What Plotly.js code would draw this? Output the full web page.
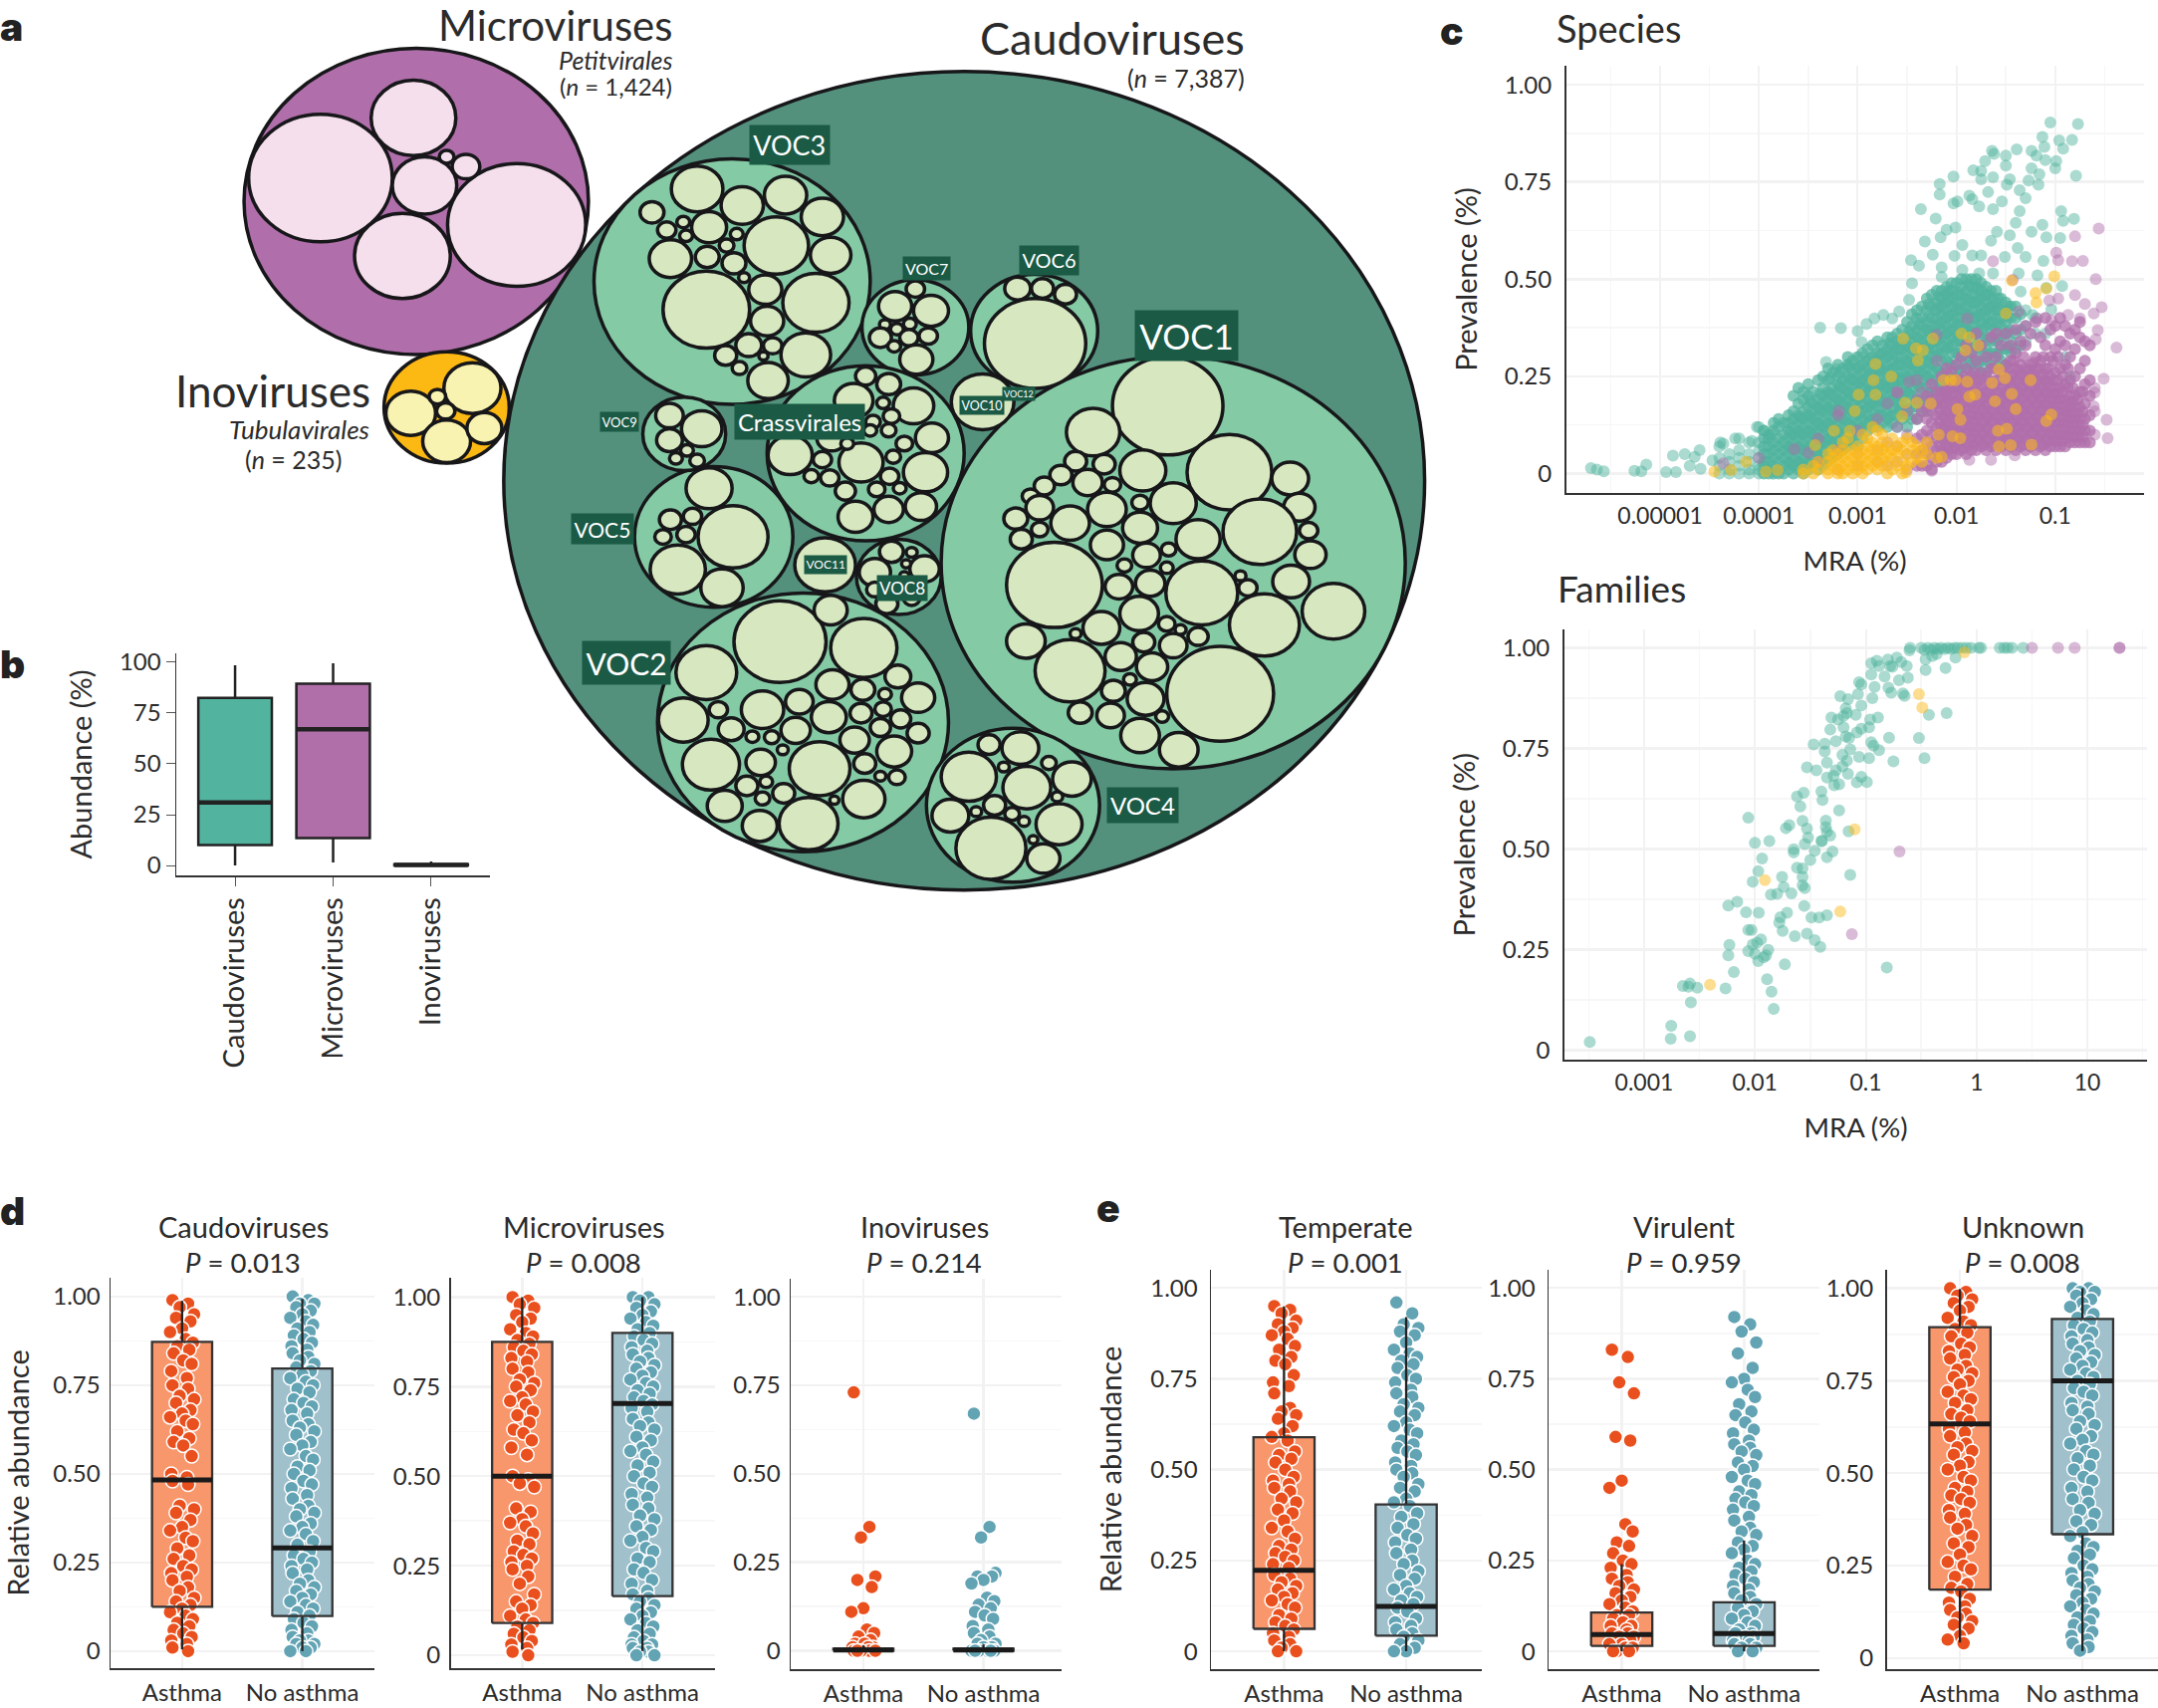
<!DOCTYPE html>
<html><head><meta charset="utf-8">
<script src="https://cdn.plot.ly/plotly-3.0.1.min.js"></script>
<style>html,body{margin:0;padding:0;background:#fff}</style></head>
<body><div id="chart" style="width:2167px;height:1715px"></div>
<script>
// ---------- panel a: circle packing, each circle = [centre x, centre y, radius] in packing units
const caudoOuter=[[1047,840,500]];
const microOuter=[[452,352,187]];
const inoOuter=[[485,712,68]];
const microInner=[[348,311,78],[449,206,46],[561,393,75],[437,447,52],[461,324,35],[506,291,15],[485,274,8]];
const inoInner=[[513,678,31],[446,722,27],[485,771,26],[526,748,19],[484,718,10],[475,693,9]];
const vocGroups=[[795,492,150],[994,572,58],[1123,578,69],[1274,983,252],[872,1262,158],[1100,1407,94],[775,938,86],[743,758,45],[940,792,107],[976,1008,46]];
const voc3=[[757,330,28],[806,359,23],[853,341,23],[893,379,23],[708,371,13],[843,429,35],[902,446,22],[728,452,23],[770,397,19],[724,402,10],[742,388,7],[745,412,7],[768,449,13],[800,409,7],[789,429,8],[797,460,13],[767,541,47],[886,529,36],[831,506,18],[833,561,18],[875,620,27],[813,603,14],[839,604,10],[788,621,12],[803,643,8],[834,665,22],[808,485,6],[829,622,5]];
const voc7=[[994,505,10],[972,535,18],[1011,543,19],[988,566,7],[961,567,6],[974,575,7],[956,590,12],[987,590,10],[1008,587,10],[971,605,7],[995,628,18]];
const voc6=[[1124,600,55],[1105,504,14],[1132,504,12],[1157,514,12]];
const voc1=[[1268,709,60],[1187,755,29],[1335,825,46],[1241,822,25],[1401,836,20],[1168,806,12],[1199,811,12],[1152,830,12],[1134,849,11],[1181,843,16],[1208,847,9],[1119,867,9],[1274,879,25],[1129,887,15],[1202,890,21],[1238,878,9],[1411,886,17],[1103,906,13],[1162,914,21],[1129,925,9],[1109,942,12],[1238,922,19],[1368,929,40],[1301,942,24],[1421,927,10],[1202,952,18],[1423,969,17],[1145,1022,52],[1245,970,15],[1269,960,8],[1221,988,8],[1267,992,7],[1215,1025,15],[1249,1019,16],[1305,1036,39],[1402,1016,20],[1355,1027,10],[1347,1006,6],[1237,1072,21],[1373,1092,38],[1448,1068,34],[1196,1097,20],[1267,1090,9],[1114,1120,21],[1168,1107,6],[1242,1122,12],[1274,1128,15],[1301,1112,11],[1282,1100,6],[1162,1172,38],[1217,1147,17],[1251,1165,17],[1325,1212,58],[1227,1187,7],[1209,1207,13],[1244,1221,20],[1173,1245,13],[1206,1250,15],[1238,1285,21],[1262,1252,7],[1280,1310,21]];
const voc2=[[847,1121,50],[938,1132,36],[902,1066,18],[767,1175,33],[904,1196,18],[937,1205,13],[975,1182,14],[997,1219,18],[780,1240,10],[742,1258,27],[828,1240,23],[868,1226,15],[900,1253,19],[935,1246,12],[961,1213,7],[959,1239,9],[794,1274,14],[864,1276,16],[928,1293,16],[956,1271,11],[978,1256,11],[997,1281,12],[772,1336,31],[826,1332,16],[890,1343,33],[971,1313,19],[939,1334,12],[956,1356,6],[974,1358,9],[817,1287,7],[838,1288,8],[811,1373,12],[851,1386,12],[832,1366,7],[787,1408,19],[828,1395,8],[938,1396,23],[825,1443,19],[878,1439,32],[906,1398,5],[850,1310,6]];
const voc4=[[1074,1301,12],[1108,1307,20],[1052,1357,30],[1115,1376,26],[1164,1361,21],[1090,1340,6],[1139,1333,8],[1148,1392,6],[1080,1407,12],[1150,1440,25],[1032,1425,20],[1060,1418,6],[1099,1422,8],[1112,1435,6],[1076,1482,38],[1133,1500,18],[1122,1467,5]];
const voc5=[[770,853,25],[796,938,38],[728,908,12],[752,902,10],[745,934,10],[720,938,9],[736,995,30],[784,1027,23]];
const voc9=[[727,726,15],[762,749,22],[727,769,14],[734,801,7],[757,805,8],[746,787,7]];
const crass=[[940,657,11],[965,671,13],[927,700,21],[992,709,22],[959,704,7],[948,737,8],[968,727,9],[903,765,16],[1012,765,18],[945,752,7],[965,752,8],[982,775,9],[858,795,24],[893,803,10],[935,808,24],[970,798,8],[1005,825,24],[881,832,8],[901,835,10],[966,832,10],[952,855,9],[977,853,7],[918,858,11],[965,890,16],[1000,885,17],[929,903,19],[920,775,7]];
const voc10and11=[[1067,702,34],[896,987,33]];
const voc8=[[968,964,13],[990,965,6],[1004,994,16],[984,985,5],[950,1000,17],[982,1006,5],[963,1055,12],[990,1045,9],[950,1030,9]];
const vocLabels=["VOC1","VOC2","VOC3","VOC4","VOC5","VOC6","VOC7","VOC8","VOC9","VOC10","VOC11","VOC12","Crassvirales"];
const vocLabelX=[1288,680,858,1241,654,1139,1006,980,673,1066,896,1106,868];
const vocLabelY=[587,1158,253,1406,924,455,469,1027,737,708,986,689,737];
const vocLabelSize=[35,30,27,24,21,20,16,17,13,12.5,12,9,24];

// ---------- panel b
const abundanceCats=["Caudoviruses","Microviruses","Inoviruses"];
const abundanceLow=[0,1.5,0], abundanceQ1=[10,13.5,0], abundanceMed=[31,67,0.3], abundanceQ3=[82.5,89.5,0.6], abundanceHigh=[98.5,99.5,2];
const abundanceFill=["#52B49F","#B06FA8","#222222"];

// ---------- panel c, species: columns of [log10 MRA, prevalence in % points]
const speciesTealColumns=[[-3.95,[0,2,3,5,7,9,11]],[-3.9,[0,1,3,5,7,9,10]],[-3.85,[0,2,4,6,8,11,13]],[-3.8,[0,1,3,5,7,9,12,14]],[-3.75,[0,2,4,6,8,10,13]],[-3.7,[1,3,5,7,9,11,13,15]],[-3.65,[0,2,4,6,8,10,12,14,16,20]],[-3.6,[1,3,5,7,9,11,13,15,18,22]],[-3.55,[0,2,4,6,8,10,12,14,16,19,21]],[-3.5,[1,3,5,7,9,11,13,15,17,20,23]],[-3.45,[2,4,6,8,10,12,14,16,18,21]],[-3.4,[1,3,5,7,9,11,13,15,17,19,24]],[-3.35,[2,4,6,8,10,12,14,16,18,20,22,25]],[-3.3,[3,5,7,9,11,13,15,17,19,21,24,27]],[-3.25,[4,6,8,10,12,14,16,18,20,22,26]],[-3.2,[5,7,9,11,13,15,17,19,21,23,25,28]],[-3.15,[6,8,10,12,14,16,18,20,22,24,27]],[-3.1,[7,9,11,13,15,17,19,21,23,25,28,30]],[-3.05,[8,10,12,14,16,18,20,22,24,26,29]],[-3,[7,10,13,15,17,19,21,23,25,27,30]],[-2.95,[9,12,14,16,18,20,22,24,26,28,31]],[-2.9,[11,13,15,17,19,21,23,25,27,29,32]],[-2.85,[12,14,16,18,20,22,24,26,28,30,33]],[-2.8,[12,15,17,19,21,23,25,27,29,31,34]],[-2.75,[13,15,17,19,21,23,25,27,29,31,33]],[-2.7,[12,14,16,18,20,22,24,26,28,30,32,35]],[-2.65,[13,15,17,19,21,23,25,27,29,31,33,35]],[-2.6,[12,15,18,20,22,24,26,28,30,32,34,36]],[-2.55,[14,16,18,20,22,24,26,28,30,32,34,37]],[-2.5,[12,15,18,21,23,25,27,29,31,33,35,39]],[-2.45,[14,17,20,22,24,26,28,30,32,34,36,38,41]],[-2.4,[14,17,20,23,25,27,29,31,33,35,37,40,42]],[-2.35,[16,19,22,24,26,28,30,32,34,36,38,40,43]],[-2.3,[16,19,22,25,27,29,31,33,35,37,39,42,45]],[-2.25,[18,21,24,26,28,30,32,34,36,38,40,43,46]],[-2.2,[18,21,24,27,30,32,34,36,38,40,42,44,47]],[-2.15,[20,23,26,29,31,33,35,37,39,41,43,45,47]],[-2.1,[20,23,26,29,32,34,36,38,40,42,44,46,48]],[-2.05,[22,25,28,31,33,35,37,39,41,43,45,47,49]],[-2,[22,25,28,31,34,36,38,40,42,44,46,49]],[-1.95,[24,27,30,32,34,36,38,40,42,44,46,48,50]],[-1.9,[24,27,30,33,35,37,39,41,43,45,47,50]],[-1.85,[25,28,31,34,36,38,40,42,44,46,48,50]],[-1.8,[24,27,30,33,36,38,40,42,44,46,48,50]],[-1.75,[26,29,32,35,37,39,41,43,45,47,49]],[-1.7,[26,29,32,35,38,40,42,44,46,48]],[-1.65,[28,31,34,37,39,41,43,45,47]],[-1.6,[28,31,34,37,40,42,44,47]],[-1.55,[29,32,35,38,40,42,45]],[-1.5,[28,32,36,39,42,44]],[-1.45,[31,34,37,40,43]],[-1.4,[32,36,40,43]],[-1.35,[33,37,41]]];
const speciesTealCore=[[-3.68,[2.5,6.5,10.5]],[-3.58,[2.5,6.5,10.5,14.5]],[-3.48,[2.5,6.5,10.5,14.5,18.5]],[-3.38,[4.5,8.5,12.5,16.5,20.5]],[-3.28,[4.5,8.5,12.5,16.5,20.5,24.5]],[-3.18,[6.5,10.5,14.5,18.5,22.5,26]],[-3.08,[8.5,12.5,16.5,20.5,24.5,27.5]],[-2.98,[11.5,15.5,19.5,23.5,27.5]],[-2.88,[13.5,17.5,21.5,25.5,29.5]],[-2.78,[14.5,18.5,22.5,26.5,30.5]],[-2.68,[14.5,18.5,22.5,26.5,30.5,33.5]],[-2.58,[16.5,20.5,24.5,28.5,32.5]],[-2.48,[16.5,20.5,24.5,28.5,32.5,36.5]],[-2.38,[18.5,22.5,26.5,30.5,34.5,38.5]],[-2.28,[20.5,24.5,28.5,32.5,36.5,40.5,43.5]],[-2.18,[22.5,26.5,30.5,34.5,38.5,42.5,45.5]],[-2.08,[24.5,28.5,32.5,36.5,40.5,44.5,47]],[-1.98,[26.5,30.5,34.5,38.5,42.5,46.5]],[-1.88,[28.5,32.5,36.5,40.5,44.5,48.5]],[-1.78,[28.5,32.5,36.5,40.5,44.5,47.5]],[-1.68,[30.5,34.5,38.5,42.5,46]],[-1.58,[30.5,34.5,38.5,42.5,45]],[-1.48,[32.5,36.5,40.5,43]]];
const speciesTealSparse=[[-4.4,0],[-4.4,2],[-4.4,4],[-4.4,7],[-4.3,0],[-4.3,1],[-4.3,3],[-4.3,5],[-4.2,0],[-4.2,2],[-4.2,4],[-4.2,6],[-4.2,9],[-4.1,0],[-4.1,1],[-4.1,3],[-4.1,5],[-4.1,8],[-4,0],[-4,1],[-4,2],[-4,4],[-4,6],[-4,8],[-4,12],[-1.3,34],[-1.3,38],[-1.3,42],[-1.2,36],[-1.2,40],[-5.7,1.4],[-5.64,1],[-5.57,.6],[-5.26,.7],[-5.19,.6],[-5.14,2.3],[-4.94,.4],[-4.84,.4],[-4.87,4.6],[-4.75,5],[-4.65,4.3],[-4.6,6],[-4.7,2],[-4.59,1.2],[-4.47,3.4],[-4.39,8],[-4.24,9],[-4.36,7.7],[-4.07,8.4],[-4.02,12],[-3.95,11],[-3.87,10],[-3.38,37.5],[-3.17,37.4],[-3.32,28.7],[-3.22,26.8],[-3.08,28],[-2.98,30],[-3,36.6],[-2.91,38.5],[-2.96,33.8],[-2.83,39.9],[-2.74,40.8],[-2.65,39.9],[-2.58,41.7],[-2.48,44.7],[-2.46,54.9],[-2.38,53.5],[-2.45,48.9],[-2.36,68],[-2.21,65.6],[-2.32,59.7],[-2.24,56.3],[-2.17,74.5],[-2.17,71.8],[-2.03,76.4],[-2.03,69.5],[-1.99,70],[-2.16,60.8],[-2.1,62.7],[-2.01,63.3],[-2.15,53],[-2.02,56],[-1.94,58.8],[-2.15,50.6],[-1.87,71.5],[-1.83,78],[-1.75,77.8],[-1.71,80.4],[-1.64,83],[-1.62,82.2],[-1.5,81.8],[-1.5,79.2],[-1.39,83.4],[-1.24,83],[-1.19,81.8],[-1.13,86.6],[-1.05,90.3],[-.77,89.9],[-.96,85.7],[-.83,85.8],[-.92,83.6],[-1.11,84],[-1.1,80.6],[-.99,80.4],[-1,78.5],[-.79,76.6],[-1.24,78.5],[-1.16,77],[-1.27,75.4],[-1.17,74.3],[-1.46,75.7],[-1.49,74.3],[-1.63,76.2],[-1.75,75.7],[-1.68,72.4],[-1.84,70.6],[-1.77,68.7],[-1.54,70],[-1.36,72.9],[-1.3,70.8],[-1.36,67.5],[-1.63,68],[-1.4,64.5],[-1.59,62.2],[-1.65,59.9],[-1.46,61.3],[-1.24,62.2],[-1.13,64],[-.94,67.5],[-.92,65],[-.81,65.5],[-1.09,60.8],[-.95,60.6],[-1.75,56.1],[-1.84,56.1],[-1.51,55.7],[-1.3,55.7],[-1.12,54.7],[-1.38,58],[-1.77,51.5],[-1.94,52.4],[-1.63,51.5],[-1.37,51.5],[-1.18,51],[-.93,48.2],[-1.09,47.8],[-1.35,46.8],[-1.23,40.8],[-1.04,42.2],[-1.1,36],[-.9,30],[-.85,25]];
const speciesPurpleColumns=[[-2.4,[2,5,9,14]],[-2.35,[2,6,10,16]],[-2.3,[2,5,8,11,14,17,20]],[-2.25,[1,4,7,10,13,16,19,23]],[-2.2,[3,6,9,12,15,18,21]],[-2.15,[3,6,9,12,15,18,21,25]],[-2.1,[4,7,10,13,16,19,22,27]],[-2.05,[5,8,11,14,17,20,23,26]],[-2,[5,8,11,14,17,20,24,28]],[-1.95,[6,9,12,15,18,21,24,30]],[-1.9,[5,8,11,14,17,20,23,27,33]],[-1.85,[6,9,12,15,18,21,25,31]],[-1.8,[6,9,12,15,18,21,24,29,36]],[-1.75,[7,10,13,16,19,22,26,33]],[-1.7,[6,9,12,15,18,21,25,30]],[-1.65,[7,10,13,16,19,22,27,35]],[-1.6,[6,9,12,15,18,21,24,30,36]],[-1.55,[7,10,13,16,19,22,26,33]],[-1.5,[6,9,12,15,18,21,24,28,36]],[-1.45,[7,10,13,16,19,22,25,29,33]],[-1.4,[6,9,12,15,18,21,24,27,31,37]],[-1.35,[7,10,13,16,19,22,25,28,34]],[-1.3,[6,9,12,15,18,21,24,27,33,38]],[-1.25,[7,10,13,16,19,22,25,28,36]],[-1.2,[6,9,12,15,18,21,24,27,30,39]],[-1.15,[7,10,13,16,19,22,25,29,35]],[-1.1,[6,9,12,15,18,21,24,27,33,40]],[-1.05,[7,10,13,16,19,22,25,30,37]],[-1,[7,10,13,16,19,22,26,32,38]],[-.95,[7,10,13,16,19,22,27,34,40]],[-.9,[7,10,13,16,19,23,28,33,38]],[-.85,[8,11,14,17,20,24,30,36]],[-.8,[8,11,14,17,20,25,32,37]],[-.75,[8,11,14,17,21,27,35,39]],[-.7,[8,11,14,18,23,29,34]],[-.65,[8,11,15,20,24,33]]];
const speciesPurpleCore=[[-2.17,[4.5,7.5,10.5,13.5,16.5,19.5]],[-2.12,[5.5,8.5,11.5,14.5,17.5,20.5]],[-2.07,[6.5,9.5,12.5,15.5,18.5,21.5]],[-2.02,[6.5,9.5,12.5,15.5,18.5,22.5]],[-1.97,[7.5,10.5,13.5,16.5,19.5,22.5]],[-1.92,[6.5,9.5,12.5,15.5,18.5,21.5,25]],[-1.87,[7.5,10.5,13.5,16.5,19.5,23]],[-1.82,[7.5,10.5,13.5,16.5,19.5,22.5,26]],[-1.77,[8.5,11.5,14.5,17.5,20.5,24]],[-1.72,[7.5,10.5,13.5,16.5,19.5,23]],[-1.67,[8.5,11.5,14.5,17.5,20.5,24]],[-1.62,[7.5,10.5,13.5,16.5,19.5,22.5,27]],[-1.57,[8.5,11.5,14.5,17.5,20.5,24]],[-1.52,[7.5,10.5,13.5,16.5,19.5,22.5,26]],[-1.47,[8.5,11.5,14.5,17.5,20.5,23.5,27]],[-1.42,[7.5,10.5,13.5,16.5,19.5,22.5,25.5,29]],[-1.37,[8.5,11.5,14.5,17.5,20.5,23.5,26.5]],[-1.32,[7.5,10.5,13.5,16.5,19.5,22.5,25.5,30]],[-1.27,[8.5,11.5,14.5,17.5,20.5,23.5,26.5]],[-1.22,[7.5,10.5,13.5,16.5,19.5,22.5,25.5,28.5]],[-1.17,[8.5,11.5,14.5,17.5,20.5,23.5,27]],[-1.12,[7.5,10.5,13.5,16.5,19.5,22.5,25.5,30]],[-1.07,[8.5,11.5,14.5,17.5,20.5,23.5,27]],[-1.02,[8.5,11.5,14.5,17.5,20.5,24,29]],[-.97,[8.5,11.5,14.5,17.5,20.5,24,30]],[-.92,[8.5,11.5,14.5,17.5,21,25]],[-.87,[9.5,12.5,15.5,18.5,22,27]],[-.82,[9.5,12.5,15.5,18.5,22]],[-.77,[9.5,12.5,15.5,19]],[-.72,[9.5,12.5,16,21]]];
const speciesPurpleSparse=[[-3.4,3],[-3.4,9],[-3.2,1],[-3.2,6],[-3.2,15],[-3,2],[-3,5],[-3,11],[-2.8,3],[-2.8,6],[-2.8,14],[-2.7,2],[-2.7,8],[-2.7,18],[-2.6,3],[-2.6,7],[-2.6,12],[-2.6,21],[-2.5,1],[-2.5,5],[-2.5,10],[-2.5,16],[-2.4,19],[-2.4,24],[-2.35,21],[-2.2,29],[-.6,10],[-.6,16],[-.6,22],[-.56,63],[-.8,61],[-.99,56.8],[-.97,54.9],[-.83,54.6],[-.72,54.7],[-1.63,54.6],[-.59,50],[-1.43,49.8],[-.8,45.9],[-.7,43.6],[-.53,42.8],[-.61,41.2],[-1.06,44.5],[-.97,45],[-.38,32.4],[-.57,36.9],[-.59,34.5],[-.51,24.4],[-.6,20.9],[-.61,17.3],[-.48,13.8],[-.47,9.1],[-1.89,39.9],[-1.37,41.7],[-1.18,39.9],[-1.04,39.4],[-.87,40.8],[-.75,39.9],[-2.2,35.7],[-2.6,20.8],[-2.48,23.6],[-3.19,16.1],[-4,4],[-3.64,6.3],[-3.5,5.4],[-4.36,2.6],[-2.25,.7],[-1.87,3.5],[-1.65,3.5],[-1.41,4.7]];
const speciesYellowColumns=[[-3.55,[0,1]],[-3.45,[0,2]],[-3.4,[1,3]],[-3.3,[0,1,3,5]],[-3.25,[2,4,6]],[-3.2,[0,1,3,5]],[-3.15,[0,2,4,6,8]],[-3.1,[1,3,5,9]],[-3.05,[0,2,4,6]],[-3,[1,3,5,7]],[-2.95,[0,2,4,6,10]],[-2.9,[1,3,5,7,9]],[-2.85,[2,4,6,8,12]],[-2.8,[1,3,5,7,11]],[-2.75,[2,4,6,8,10]],[-2.7,[0,3,5,7]],[-2.65,[1,4,6,9]],[-2.6,[2,5,7]],[-2.55,[0,3,6,8]],[-2.5,[2,5,9]],[-2.45,[3,6,8]],[-2.4,[4,7]],[-2.35,[3,6]],[-2.3,[5,8]]];
const speciesYellowSparse=[[-2.54,34.7],[-2.24,34.7],[-2.41,32.2],[-2.34,31.7],[-2.39,29.1],[-2.82,28.2],[-2.84,24],[-2.66,25],[-2.99,20.3],[-2.82,20.3],[-2.13,24],[-2.06,24],[-2.01,24],[-1.89,23.6],[-1.95,36],[-1.87,35],[-1.78,32.9],[-1.91,31.7],[-1.57,26.8],[-1.51,24.5],[-1.25,24],[-1.64,23.3],[-1.44,20.5],[-1.61,18.6],[-1.4,16.6],[-1.04,15.2],[-1.09,13.5],[-1.49,11.5],[-1.58,11],[-2.18,10],[-2.04,9.6],[-1.96,9.1],[-1.57,7],[-1.45,7.3],[-1.24,7.4],[-1.99,16.6],[-1.96,13.8],[-1.87,19.8],[-1.81,20.3],[-2.4,18.2],[-2.26,18],[-2.52,18.2],[-2.55,14.7],[-3.03,16.1],[-2.2,4],[-2.15,4.3],[-1.44,49.6],[-1.01,50.7],[-1.09,47.6],[-1.2,46.4],[-1.19,44],[-1.5,41.2],[-4.45,.5],[-4.28,.9],[-4.13,3],[-3.93,.5],[-3.81,.9],[-3.43,7.3],[-3.24,11],[-3.08,11],[-2.51,.3]];

// ---------- panel c, families: [log10 MRA, prevalence fraction]
const familyTeal=[[-3.49,.021],[-2.755,.061],[-2.76,.029],[-2.586,.035],[-2.578,.119],[-2.65,.16],[-2.586,.166],[-2.6,.158],[-2.52,.156],[-2.265,.154],[-2.19,.195],[-2.23,.262],[-2.24,.236],[-2.24,.36],[-2.16,.369],[-2.08,.343],[-1.965,.342],[-2.06,.299],[-2.03,.299],[-2.06,.247],[-2.02,.263],[-1.98,.268],[-1.945,.276],[-2,.24],[-1.88,.25],[-1.97,.222],[-1.92,.231],[-1.9,.236],[-1.73,.214],[-1.89,.177],[-1.85,.146],[-1.83,.103],[-2.06,.578],[-2,.516],[-1.87,.52],[-1.935,.477],[-1.97,.445],[-2.02,.419],[-1.855,.387],[-1.8,.389],[-1.74,.406],[-1.755,.431],[-1.67,.39],[-1.62,.454],[-1.57,.452],[-1.57,.431],[-1.57,.41],[-1.55,.403],[-1.555,.359],[-1.71,.342],[-1.77,.331],[-1.78,.317],[-1.75,.297],[-1.64,.284],[-1.53,.29],[-1.46,.274],[-1.41,.257],[-1.49,.33],[-1.42,.33],[-1.35,.336],[-1.14,.436],[-.81,.206],[-1.72,.552],[-1.69,.56],[-1.57,.57],[-1.53,.551],[-1.52,.529],[-1.55,.513],[-1.65,.5],[-1.65,.492],[-1.46,.496],[-1.5,.473],[-1.395,.52],[-1.4,.52],[-1.36,.571],[-1.36,.555],[-1.35,.543],[-1.32,.534],[-1.3,.494],[-1.35,.48],[-1.24,.596],[-1.155,.544],[-1.62,.631],[-1.56,.64],[-1.59,.606],[-1.4,.643],[-1.39,.622],[-1.53,.703],[-1.445,.696],[-1.35,.678],[-1.29,.682],[-1.285,.659],[-1.24,.661],[-1.27,.696],[-1.21,.706],[-1.17,.72],[-1.16,.687],[-1.08,.666],[-1.04,.68],[-.99,.667],[-1.35,.715],[-1.37,.743],[-1.37,.762],[-1.47,.76],[-1.27,.768],[-1.21,.734],[-1.14,.748],[-1.06,.729],[-.97,.726],[-.95,.766],[-.93,.757],[-.88,.746],[-.79,.777],[-.75,.718],[-.52,.776],[-.47,.726],[-1.32,.797],[-1.31,.827],[-1.25,.822],[-1.2,.803],[-1.18,.78],[-1.15,.776],[-1.08,.79],[-1.04,.799],[-.97,.803],[-.96,.822],[-.89,.827],[-1.2,.831],[-1.17,.838],[-1.18,.85],[-1.09,.834],[-1.23,.88],[-1.16,.873],[-1.07,.885],[-1.04,.857],[-.94,.875],[-1.06,.915],[-1.04,.909],[-.92,.903],[-.795,.901],[-.77,.889],[-.665,.887],[-.65,.881],[-.7,.92],[-.62,.926],[-.83,.929],[-.95,.934],[-.95,.962],[-.9,.968],[-.8,.971],[-.76,.953],[-.78,.955],[-.72,.976],[-.63,.955],[-.88,.955],[-.68,.965],[-.605,.994],[-.46,.945],[-.28,.95],[-.19,.976],[-.27,.838],[-.43,.834],[-.46,.972],[-.4,.98],[-.36,.985],[-.6,1],[-.5,1],[-.47,.995],[-.44,1],[-.41,.995],[-.38,1],[-.35,.998],[-.32,1],[-.29,.997],[-.26,1],[-.23,.998],[-.2,1],[-.17,1],[-.13,1],[-.09,1],[-.05,1],[.02,1],[.04,1],[.21,1],[.25,1],[.28,1],[.32,1],[.42,1]];
const familyYellow=[[-.11,.989],[-.52,.885],[-.49,.852],[-1.1,.549],[-1.91,.423],[-1.23,.345],[-2.405,.163]];
const familyPurple=[[.5,1],[.735,1],[.885,1],[1.29,1],[1.29,1],[-.695,.494],[-1.125,.289]];

// ---------- panels d, e: box statistics [low whisker, q1, median, q3, high whisker] (asthma, no asthma) and samples in % points
const groupLabels=["Asthma","No asthma"];
const boxCaudoA=[.5,12.5,48.3,87.2,98.8], boxCaudoN=[0,9.9,29.1,79.7,99.3];
const boxMicroA=[1.7,9,50,87.5,100], boxMicroN=[1.2,16.5,70.3,90,100];
const boxInoA=[0,0,.2,.6,1.5], boxInoN=[0,0,.2,.6,1.8];
const boxTempA=[0,6.2,22.3,58.9,94.9], boxTempN=[0,4.3,12.4,40.4,92];
const boxViruA=[0,1.5,4.6,10.7,24], boxViruN=[0,1.5,4.9,13.5,30.5];
const boxUnknA=[4.2,18.5,63.3,89.5,99.8], boxUnknN=[1.9,33.5,75,91.7,100];
const caudoA=[99,98,97,95,94,93,91,90,88,87,86,85,84,82,81,79,77,75,74,72,71,70,68,67,66,65,64,62,60,59,58,55,50,49,48,47,41,40,39,37,35,34,32,31,29,27,26,24,23,22,21,20,18,17,15,14,13,12,11,10,9,8,7,6,5,4,3,2,1,0];
const caudoN=[100,99,98,98,97,96,95,94,93,92,91,90,89,88,87,86,85,84,83,82,81,80,79,78,77,76,75,74,73,71,70,69,68,67,65,64,63,62,61,59,58,57,55,54,52,51,50,48,47,46,44,43,41,40,39,38,36,35,34,33,31,30,28,27,26,25,24,23,22,20,19,18,17,16,15,14,13,12,11,10,9,8,7,6,5,4,3,3,2,2,1,1,0,0];
const microA=[100,99,98,97,95,94,93,91,90,89,88,87,86,85,84,83,82,80,79,77,76,75,74,72,71,70,68,67,65,63,62,60,58,56,50,49,48,47,41,40,38,37,36,34,32,31,29,28,27,26,25,24,22,20,17,15,14,13,11,10,9,8,7,6,5,4,3,2,1,0];
const microN=[100,100,99,98,97,96,95,94,93,92,91,90,89,88,87,86,85,84,83,82,81,80,79,78,77,76,75,74,73,72,71,70,69,68,66,65,64,63,61,60,58,57,56,54,53,51,50,48,47,45,44,42,41,39,38,36,35,33,32,30,29,27,26,24,23,21,20,18,17,16,15,14,13,12,11,10,9,8,7,6,5,4,3,3,2,2,1,1,0,0];
const inoA=[73,35,32,21,20,18,12,11,6,5,4,3,2,2,1,1,1,0,0,0,0,0];
const inoN=[67,35,32,22,21,21,20,19,15,14,13,12,11,10,9,7,6,5,4,3,2,2,1,1,0,0,0,0,0,0];
const tempA=[95,94,93,91,90,89,88,87,86,84,83,81,80,79,76,74,73,71,67,66,65,64,62,60,59,58,55,54,53,52,50,48,47,46,45,44,42,41,39,38,36,34,33,31,29,28,27,26,25,24,23,21,20,19,18,17,16,15,14,13,12,10,9,8,7,6,5,4,3,2,1,0,0];
const tempN=[96,93,90,89,88,87,85,83,82,81,80,79,78,76,75,74,72,71,70,68,67,66,65,63,62,61,60,58,57,56,55,54,52,51,50,49,48,46,45,44,42,41,40,38,37,35,34,32,31,30,28,27,25,24,22,21,20,18,17,16,15,14,13,12,11,9,8,7,6,5,4,3,2,1,0,0];
const viruA=[83,81,74,71,59,58,47,45,35,33,30,29,27,25,24,23,21,20,19,18,17,16,15,14,13,12,11,10,10,9,8,7,7,6,5,5,4,4,3,3,2,2,1,1,0,0,0];
const viruN=[92,90,88,85,82,78,75,74,72,70,68,66,65,63,61,60,58,57,56,55,54,52,51,50,48,47,46,44,43,42,41,40,39,37,36,34,33,32,30,29,28,27,25,24,23,22,21,20,19,18,17,16,15,14,13,12,11,10,9,8,7,6,5,5,4,4,3,3,2,2,1,1,0,0];
const unknA=[100,99,98,97,96,95,94,92,91,90,89,88,87,85,84,83,82,81,79,78,77,76,75,74,72,71,70,69,67,66,65,64,62,61,60,58,57,56,55,53,52,51,49,48,46,45,44,43,42,40,39,38,36,35,33,31,30,28,26,25,24,22,20,19,18,16,15,14,13,12,11,10,9,8,6,5,4];
const unknN=[100,100,99,99,98,97,96,95,94,93,92,91,90,89,88,87,86,85,84,83,82,81,80,79,78,77,76,75,74,73,72,71,69,68,67,66,64,63,62,60,59,58,56,55,54,52,51,49,48,46,45,43,42,40,39,37,36,34,33,31,30,29,28,27,25,24,23,22,21,20,19,18,17,16,15,14,13,12,11,10,9,8,7,6,5,4,3,2];
const jitterOffsets=[-.08,.05,-.02,.1,-.05,.07,0,-.1,.03,.09,-.04,.06,-.07,.01,.08,-.09,.04];

// ---------- build
const W=2167,H=1715,FONT="Lato",INK="#2b2b2b";
const dx=(a,b)=>[a/W,b/W], dy=(top,bot)=>[1-bot/H,1-top/H];
const layout={width:W,height:H,autosize:false,margin:{l:0,r:0,t:0,b:0},paper_bgcolor:"#fff",plot_bgcolor:"rgba(0,0,0,0)",showlegend:false,font:{family:FONT,color:INK},shapes:[],annotations:[],hovermode:false};
const traces=[];
function axId(n,l){return l+(n===1?"":n);}
function setAxes(n,xa,ya){layout[axId(n,"xaxis")]=Object.assign({anchor:axId(n,"y")},xa);layout[axId(n,"yaxis")]=Object.assign({anchor:axId(n,"x")},ya);}

// panel a
setAxes(1,{domain:dx(0,1450),range:[0,1568],visible:false},{domain:dy(0,900),range:[1566,0],visible:false});
const RY=1.43;
function addCircles(list,fill){list.forEach(c=>layout.shapes.push({type:"circle",xref:"x",yref:"y",x0:c[0]-c[2],x1:c[0]+c[2],y0:c[1]-c[2]*RY,y1:c[1]+c[2]*RY,fillcolor:fill,line:{color:"#17171a",width:3.5}}));}
addCircles(microOuter,"#B06FAB");addCircles(inoOuter,"#FDB913");addCircles(caudoOuter,"#54917C");
addCircles(microInner,"#F5DFEC");addCircles(inoInner,"#F8F3B0");
addCircles(vocGroups,"#84CAA5");
[voc3,voc7,voc6,voc1,voc2,voc4,voc5,voc9,crass,voc10and11,voc8].forEach(g=>addCircles(g,"#D7E7BF"));
vocLabels.forEach((t,i)=>layout.annotations.push({xref:"x",yref:"y",x:vocLabelX[i],y:vocLabelY[i],text:t,showarrow:false,font:{family:FONT,size:vocLabelSize[i],color:"#fff"},bgcolor:"#1B5A45",borderpad:Math.max(1,vocLabelSize[i]*.12)}));

function txt(x,y,text,size,o){layout.annotations.push(Object.assign({xref:"paper",yref:"paper",x:x/W,y:1-y/H,text:text,showarrow:false,xanchor:"center",yanchor:"middle",font:{family:FONT,size:size,color:INK}},o||{}));}
const R={xanchor:"right"};
txt(677,25,"Microviruses",42,R);txt(677,60,"<i>Petitvirales</i>",25,R);txt(677,87,"(<i>n</i> = 1,424)",24,R);
txt(1252,38,"Caudoviruses",45,R);txt(1252,78,"(<i>n</i> = 7,387)",25,R);
txt(374,392,"Inoviruses",44,R);txt(373,431,"<i>Tubulavirales</i>",26,R);txt(345,461,"(<i>n</i> = 235)",25,R);
[["a",11,26],["b",12,667],["c",1458,30],["d",12,1215],["e",1113,1212]].forEach(p=>txt(p[1],p[2],p[0],39,{font:{family:"Inter",size:39,color:"#222",weight:900}}));
txt(1625,28,"Species",38);txt(1628,590,"Families",37);

// panel b
setAxes(2,{domain:dx(177,492),range:[.4,3.6],tickvals:[1,2,3],ticktext:abundanceCats,tickangle:-90,ticks:"outside",ticklen:9,tickcolor:"#555",showline:true,linecolor:"#333",linewidth:1.5,showgrid:false,zeroline:false,tickfont:{family:FONT,size:29,color:INK}},
 {domain:dy(656,879),range:[-4.9,104.4],tickvals:[0,25,50,75,100],ticks:"outside",ticklen:9,tickcolor:"#555",showline:true,linecolor:"#333",linewidth:1.5,showgrid:false,zeroline:false,tickfont:{family:FONT,size:24,color:INK},title:{text:"Abundance (%)",standoff:19,font:{family:FONT,size:29,color:INK}}});
abundanceCats.forEach((c,i)=>{
 traces.push({type:"box",xaxis:"x2",yaxis:"y2",x:[i+1],q1:[abundanceQ1[i]],median:[abundanceMed[i]],q3:[abundanceQ3[i]],lowerfence:[abundanceLow[i]],upperfence:[abundanceHigh[i]],width:.75,whiskerwidth:0,fillcolor:abundanceFill[i],line:{color:"#222",width:2.5},boxpoints:false,name:c});
 traces.push({type:"scatter",mode:"lines",xaxis:"x2",yaxis:"y2",x:[i+1-.375,i+1+.375],y:[abundanceMed[i],abundanceMed[i]],line:{color:"#222",width:4.5},name:c+" median"});
});

// panel c helpers
const expandCols=cols=>{const o=[];cols.forEach(c=>c[1].forEach(v=>o.push([c[0],v])));return o;};
function scatterC(n,pairs,color,yScale,name,op){traces.push({type:"scatter",mode:"markers",xaxis:"x"+n,yaxis:"y"+n,x:pairs.map(p=>Math.pow(10,p[0])),y:pairs.map(p=>p[1]*yScale),name:name,marker:{size:12,color:color,opacity:op,line:{width:0}}});}
const GRID="#f2f2f2",GRID2="#f7f7f7";
function yGridAxis(domain,range,title,len){return {domain:domain,range:range,tickmode:"array",tickvals:[0,.25,.5,.75,1],ticktext:["0","0.25","0.50","0.75","1.00"],ticks:"outside",ticklen:len,tickcolor:"rgba(0,0,0,0)",showline:true,linecolor:"#333",linewidth:1.5,showgrid:true,gridcolor:GRID,gridwidth:2.5,zeroline:false,minor:{tickmode:"array",tickvals:[.125,.375,.625,.875],showgrid:true,gridcolor:GRID2,gridwidth:1.5,ticks:""},tickfont:{family:FONT,size:24,color:INK},title:title};}
const prevTitle={text:"Prevalence (%)",standoff:18,font:{family:FONT,size:29,color:INK}};
function logAxis(domain,range,vals,text,minorVals,len,stand){return {domain:domain,type:"log",range:range,tickmode:"array",tickvals:vals,ticktext:text,ticks:"outside",ticklen:len,tickcolor:"rgba(0,0,0,0)",showline:true,linecolor:"#333",linewidth:1.5,showgrid:true,gridcolor:GRID,gridwidth:2,zeroline:false,minor:{tickmode:"array",tickvals:minorVals,showgrid:true,gridcolor:GRID2,gridwidth:1.5,ticks:""},tickfont:{family:FONT,size:23,color:INK},title:{text:"MRA (%)",standoff:stand,font:{family:FONT,size:27.5,color:INK}}};}
setAxes(3,logAxis(dx(1572.5,2152.6),[-5.953,-.105],[1e-5,1e-4,1e-3,1e-2,.1],["0.00001","0.0001","0.001","0.01","0.1"],[3.16e-6,3.16e-5,3.16e-4,3.16e-3,3.16e-2,.316],2,23),yGridAxis(dy(66,495),[-.05,1.049],prevTitle,8));
setAxes(4,logAxis(dx(1570.6,2156.4),[-3.722,1.542],[1e-3,1e-2,.1,1,10],["0.001","0.01","0.1","1","10"],[3.16e-4,3.16e-3,3.16e-2,.316,3.16,31.6],1,24),yGridAxis(dy(632,1064.4),[-.024,1.046],prevTitle,8));
const TEAL="#4FB39D",PURP="#B06FAB",YELL="#FBB917";
scatterC(3,expandCols(speciesTealColumns).concat(expandCols(speciesTealCore)),TEAL,.01,"Caudoviruses species, dense",.72);
scatterC(3,speciesTealSparse,TEAL,.01,"Caudoviruses species",.48);
scatterC(3,expandCols(speciesPurpleColumns).concat(expandCols(speciesPurpleCore)),PURP,.01,"Microviruses species, dense",.75);
scatterC(3,speciesPurpleSparse,PURP,.01,"Microviruses species",.48);
scatterC(3,expandCols(speciesYellowColumns),YELL,.01,"Inoviruses species, dense",.6);
scatterC(3,speciesYellowSparse,YELL,.01,"Inoviruses species",.55);
scatterC(4,familyTeal,TEAL,1,"Caudoviruses families",.48);
scatterC(4,familyPurple,PURP,1,"Microviruses families",.48);
scatterC(4,familyYellow,YELL,1,"Inoviruses families",.48);

// panels d, e
const ORANGE="#E9501E",OBOX="#F8976C",BLUE="#62A3B4",BBOX="#A0C0CC";
const panels=[
 {n:5,x:[111,376],yd:[1283,1675],r:[-.048,1.053],xr:[.405,2.6],t:"Caudoviruses",p:"0.013",cx:244,a:caudoA,b:caudoN,ba:boxCaudoA,bb:boxCaudoN,yt:"Relative abundance",len:4,st:38},
 {n:6,x:[452.5,717.6],yd:[1283,1675],r:[-.036,1.054],xr:[.405,2.6],t:"Microviruses",p:"0.008",cx:586,a:microA,b:microN,ba:boxMicroA,bb:boxMicroN,len:4},
 {n:7,x:[794,1066],yd:[1284,1676],r:[-.052,1.051],xr:[.395,2.65],t:"Inoviruses",p:"0.214",cx:928,a:inoA,b:inoN,ba:boxInoA,bb:boxInoN,len:4},
 {n:8,x:[1216,1487.6],yd:[1275,1676],r:[-.049,1.05],xr:[.402,2.616],t:"Temperate",p:"0.001",cx:1351,a:tempA,b:tempN,ba:boxTempA,bb:boxTempN,yt:"Relative abundance",len:7,st:20},
 {n:9,x:[1555,1827],yd:[1275,1676],r:[-.049,1.05],xr:[.402,2.616],t:"Virulent",p:"0.959",cx:1691,a:viruA,b:viruN,ba:boxViruA,bb:boxViruN,len:7},
 {n:10,x:[1894.5,2167],yd:[1275,1676],r:[-.03,1.05],xr:[.402,2.616],t:"Unknown",p:"0.008",cx:2031,a:unknA,b:unknN,ba:boxUnknA,bb:boxUnknN,len:7}];
panels.forEach(P=>{
 const xa="x"+P.n,ya="y"+P.n;
 const yAx=yGridAxis(dy(P.yd[0],P.yd[1]),P.r,P.yt?{text:P.yt,standoff:P.st,font:{family:FONT,size:29,color:INK}}:undefined,P.len);
 setAxes(P.n,{domain:dx(P.x[0],P.x[1]),range:P.xr,tickmode:"array",tickvals:[1,2],ticktext:groupLabels,ticks:"outside",ticklen:3,tickcolor:"rgba(0,0,0,0)",showline:true,linecolor:"#333",linewidth:1.5,showgrid:true,gridcolor:GRID,gridwidth:2.5,zeroline:false,tickfont:{family:FONT,size:24,color:INK}},yAx);
 [[P.a,P.ba,OBOX,ORANGE,1],[P.b,P.bb,BBOX,BLUE,2]].forEach(g=>{
  const [vals,st,boxFill,dot,pos]=g;
  const s=st.map(v=>v/100);
  traces.push({type:"box",xaxis:xa,yaxis:ya,x:[pos],lowerfence:[s[0]],q1:[s[1]],median:[s[2]],q3:[s[3]],upperfence:[s[4]],width:.5,whiskerwidth:0,boxpoints:false,fillcolor:boxFill,line:{color:"rgba(0,0,0,0)",width:0}});
  traces.push({type:"scatter",mode:"markers",xaxis:xa,yaxis:ya,x:vals.map((v,i)=>pos+jitterOffsets[i%jitterOffsets.length]),y:vals.map(v=>v/100),marker:{size:14,color:dot,line:{color:"#fff",width:1.5}},name:P.t+(pos===1?" asthma":" no asthma")});
  traces.push({type:"scatter",mode:"lines",xaxis:xa,yaxis:ya,x:[pos,pos,null,pos,pos],y:[s[3],s[4],null,s[1],s[0]],line:{color:"#222",width:2.3}});
  traces.push({type:"scatter",mode:"lines",xaxis:xa,yaxis:ya,x:[pos-.25,pos+.25,pos+.25,pos-.25,pos-.25],y:[s[1],s[1],s[3],s[3],s[1]],line:{color:"#333",width:2.3}});
  traces.push({type:"scatter",mode:"lines",xaxis:xa,yaxis:ya,x:[pos-.25,pos+.25],y:[s[2],s[2]],line:{color:"#1a1a1a",width:5}});
 });
 txt(P.cx,1231,P.t,29);
 txt(P.cx,1267,"<i>P</i> = "+P.p,27.5);
});
Plotly.newPlot("chart",traces,layout,{displayModeBar:false,staticPlot:true});
</script></body></html>
